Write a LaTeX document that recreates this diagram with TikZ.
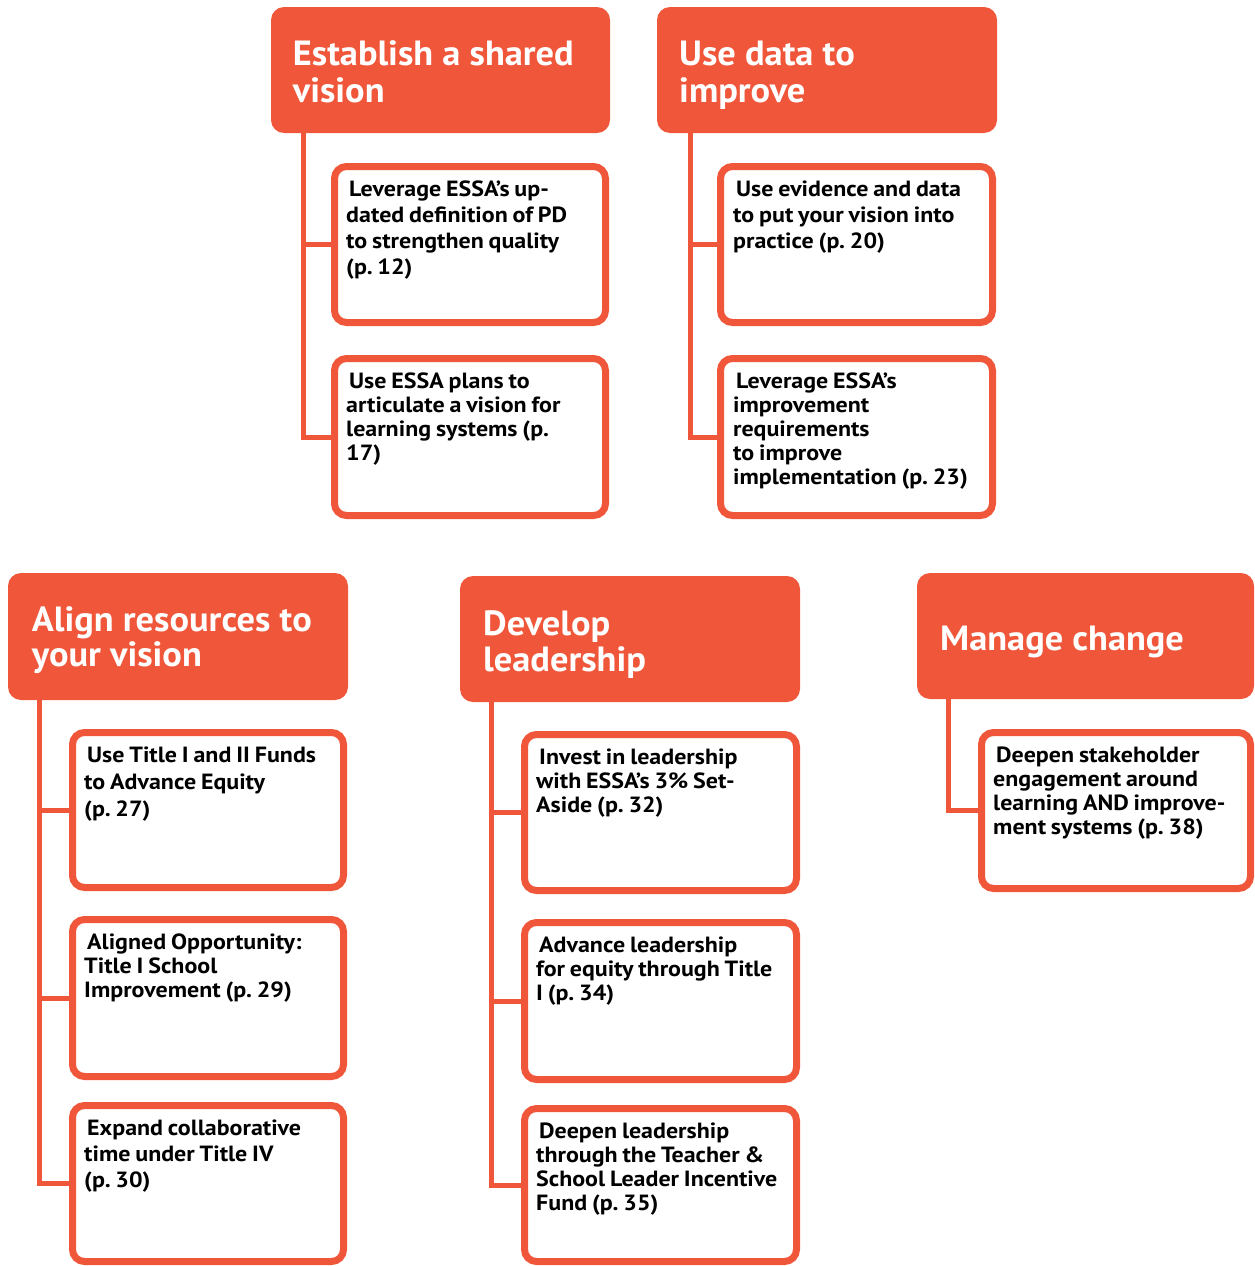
\documentclass[tikz,border=0pt]{standalone}
\usepackage{fontspec}
\setmainfont{PT Sans}
\newfontfamily\kidfont{PT Sans}[FakeStretch=1.09, WordSpace=0.8]
\newfontfamily\headfont{PT Sans}[FakeStretch=1.04]
\definecolor{brand}{RGB}{240,87,58}
\frenchspacing
\begin{document}
\begin{tikzpicture}[x=1pt,y=-1pt,
  head/.style={fill=brand, rounded corners=13pt, inner sep=0pt, outer sep=0pt},
  kid/.style={draw=brand, fill=white, line width=7pt, rounded corners=12pt, inner sep=0pt, minimum width=271pt, minimum height=156pt},
  conn/.style={draw=brand, line width=5pt},
  ttl/.style={anchor=north west, inner sep=0pt, align=left, text=white, font=\headfont\fontsize{35}{#1}\selectfont\bfseries},
  ttl/.default=37,
  txt/.style={anchor=north west, inner sep=0pt, align=left, text=black, font=\kidfont\fontsize{22}{#1}\selectfont\bfseries\frenchspacing},
  txt/.default=24]
\useasboundingbox (0,0) rectangle (1255,1266);

% headers
\node[head, minimum width=339pt, minimum height=126pt] (hE) at (440.5,70) {};
\node[head, minimum width=340pt, minimum height=126pt] (hU) at (827,70) {};
\node[head, minimum width=340pt, minimum height=127pt] (hA) at (178,636.5) {};
\node[head, minimum width=340pt, minimum height=126pt] (hD) at (630,639) {};
\node[head, minimum width=337pt, minimum height=126pt] (hM) at (1085.5,636) {};

\node[ttl] (tE) at ([shift={(21.7,28)}]hE.north west) {\rule{0pt}{30pt}Establish a shared\\vision};
\node[ttl] (tU) at ([shift={(22,28)}]hU.north west) {\rule{0pt}{30pt}Use data to\\improve};
\node[ttl=35] (tA) at ([shift={(23.7,28.7)}]hA.north west) {\rule{0pt}{30pt}Align resources to\\your vision};
\node[ttl=36] (tD) at ([shift={(23,29)}]hD.north west) {\rule{0pt}{30pt}Develop\\leadership};
\node[ttl] (tM) at ([shift={(23,47)}]hM.north west) {\rule{0pt}{30pt}Manage change};

% child boxes
\node[kid] (e1) at (470,244.5) {};
\node[kid, minimum height=157pt] (e2) at (470,437) {};
\node[kid, minimum width=272pt] (u1) at (856.5,244.5) {};
\node[kid, minimum width=272pt, minimum height=157pt] (u2) at (856.5,437) {};
\node[kid, minimum height=155pt] (a1) at (208,810) {};
\node[kid, minimum height=157pt] (a2) at (208,998) {};
\node[kid] (a3) at (208,1183.5) {};
\node[kid, minimum width=272pt] (d1) at (660.5,812.5) {};
\node[kid, minimum width=272pt, minimum height=157pt] (d2) at (660.5,1001) {};
\node[kid, minimum width=272pt, minimum height=153pt] (d3) at (660.5,1185) {};
\node[kid, minimum width=269pt] (m1) at (1116,810.5) {};

% child texts
\node[txt=26] at ([shift={(15,15.5)}]e1.north west) {\rule{0pt}{18pt}\hspace*{3pt}Leverage ESSA’s up-\\dated definition of PD\\to strengthen quality\\(p. 12)};
\node[txt] at ([shift={(15,15.5)}]e2.north west) {\rule{0pt}{18pt}\hspace*{3pt}Use ESSA plans to\\articulate a vision for\\learning systems (p.\\17)};
\node[txt=26] at ([shift={(16,15.5)}]u1.north west) {\rule{0pt}{18pt}\hspace*{3pt}Use evidence and data\\to put your vision into\\practice (p. 20)};
\node[txt] at ([shift={(16,15.5)}]u2.north west) {\rule{0pt}{18pt}\hspace*{3pt}Leverage ESSA’s\\improvement\\requirements\\to improve\\implementation (p. 23)};
\node[txt=27] at ([shift={(15,15.5)}]a1.north west) {\rule{0pt}{18pt}\hspace*{3pt}Use Title I and II Funds\\to Advance Equity\\(p. 27)};
\node[txt] at ([shift={(15,15.5)}]a2.north west) {\rule{0pt}{18pt}\hspace*{3pt}Aligned Opportunity:\\Title I School\\Improvement (p. 29)};
\node[txt=26] at ([shift={(15,15.5)}]a3.north west) {\rule{0pt}{18pt}\hspace*{3pt}Expand collaborative\\time under Title IV\\(p. 30)};
\node[txt] at ([shift={(15,15.5)}]d1.north west) {\rule{0pt}{18pt}\hspace*{3pt}Invest in leadership\\with ESSA’s 3\% Set-\\Aside (p. 32)};
\node[txt] at ([shift={(15,15.5)}]d2.north west) {\rule{0pt}{18pt}\hspace*{3pt}Advance leadership\\for equity through Title\\I (p. 34)};
\node[txt] at ([shift={(15,15.5)}]d3.north west) {\rule{0pt}{18pt}\hspace*{3pt}Deepen leadership\\through the Teacher \&\\School Leader Incentive\\Fund (p. 35)};
\node[txt] at ([shift={(15,15.5)}]m1.north west) {\rule{0pt}{18pt}\hspace*{3pt}Deepen stakeholder\\engagement around\\learning AND improve-\\ment systems (p. 38)};

% connectors
\coordinate (eL) at ([xshift=32.5pt]hE.south west);
\coordinate (uL) at ([xshift=33pt]hU.south west);
\coordinate (aL) at ([xshift=31pt]hA.south west);
\coordinate (dL) at ([xshift=31.5pt]hD.south west);
\coordinate (mL) at ([xshift=31pt]hM.south west);

\draw[conn] (eL) |- (e2.west);
\draw[conn] (e1.west) -- (e1.west -| eL);
\draw[conn] (uL) |- (u2.west);
\draw[conn] (u1.west) -- (u1.west -| uL);
\draw[conn] (aL) |- (a3.west);
\draw[conn] (a1.west) -- (a1.west -| aL);
\draw[conn] (a2.west) -- (a2.west -| aL);
\draw[conn] (dL) |- (d3.west);
\draw[conn] (d1.west) -- (d1.west -| dL);
\draw[conn] (d2.west) -- (d2.west -| dL);
\draw[conn] (mL) |- (m1.west);
\end{tikzpicture}
\end{document}
